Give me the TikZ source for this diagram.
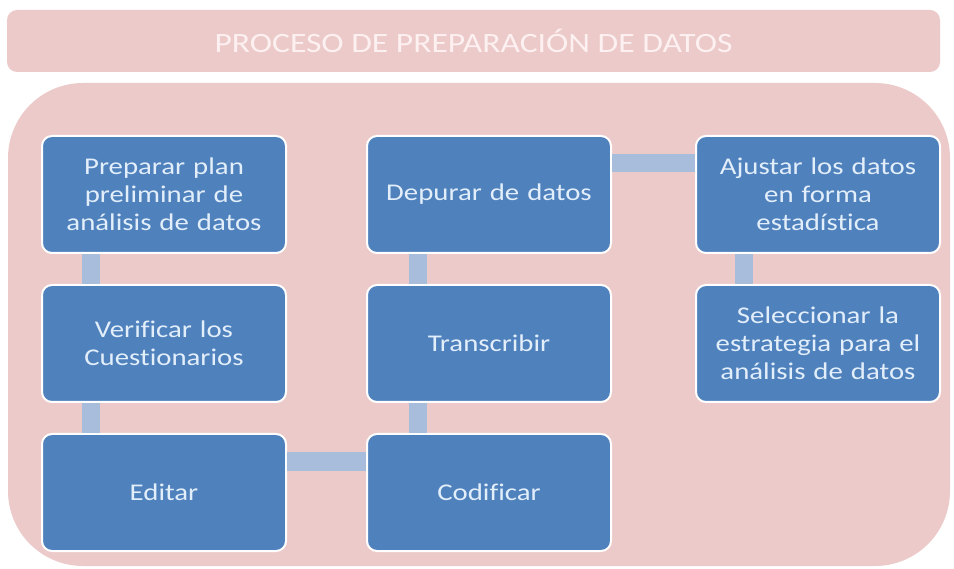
\documentclass[tikz,border=0pt]{standalone}
\usepackage{fontspec}
\setmainfont{Carlito}[FakeStretch=1.2,Ligatures=NoCommon]
\definecolor{bgpink}{RGB}{237,202,202}
\definecolor{boxblue}{RGB}{79,129,189}
\definecolor{connblue}{RGB}{168,188,220}
\definecolor{boxtext}{RGB}{226,238,250}
\definecolor{titletext}{RGB}{252,240,240}
\begin{document}
\begin{tikzpicture}[x=1pt,y=-1pt,
  stepbox/.style={rectangle, rounded corners=10pt, fill=boxblue, draw=white, line width=2pt,
    minimum width=244pt, minimum height=117pt, text width=236pt, align=center,
    text=boxtext, font=\fontsize{24}{28}\selectfont, inner sep=0pt},
  conn/.style={draw=connblue, line width=18pt},
  titlebar/.style={rectangle, rounded corners=10pt, fill=bgpink, minimum width=933pt,
    minimum height=62pt, text=titletext, font=\fontsize{28}{32}\selectfont, inner sep=0pt}]
\useasboundingbox (0,0) rectangle (954,569);
\fill[bgpink, rounded corners=75pt] (8,83) rectangle (950,566);
\node[titlebar] (title) at (473.5,41) {PROCESO DE PREPARACIÓN DE DATOS};
\node[stepbox] (prep) at (164,194.5) {Preparar plan\\preliminar de\\análisis de datos};
\node[stepbox] (verif) at (164,343.5) {Verificar los\\Cuestionarios};
\node[stepbox] (edit) at (164,492.5) {Editar};
\node[stepbox] (cod) at (489,492.5) {Codificar};
\node[stepbox] (trans) at (489,343.5) {Transcribir};
\node[stepbox] (dep) at (489,194.5) {Depurar de datos};
\node[stepbox] (ajus) at (818,194.5) {Ajustar los datos\\en forma\\estadística};
\node[stepbox] (sel) at (818,343.5) {Seleccionar la\\estrategia para el\\análisis de datos};
\draw[conn] ([xshift=-73pt]prep.south) -- ([xshift=-73pt]verif.north);
\draw[conn] ([xshift=-73pt]verif.south) -- ([xshift=-73pt]edit.north);
\draw[conn] ([yshift=31pt]edit.east) -- ([yshift=31pt]cod.west);
\draw[conn] ([xshift=-71pt]cod.north) -- ([xshift=-71pt]trans.south);
\draw[conn] ([xshift=-71pt]trans.north) -- ([xshift=-71pt]dep.south);
\draw[conn] ([yshift=31pt]dep.east) -- ([yshift=31pt]ajus.west);
\draw[conn] ([xshift=-74pt]ajus.south) -- ([xshift=-74pt]sel.north);
\end{tikzpicture}
\end{document}
